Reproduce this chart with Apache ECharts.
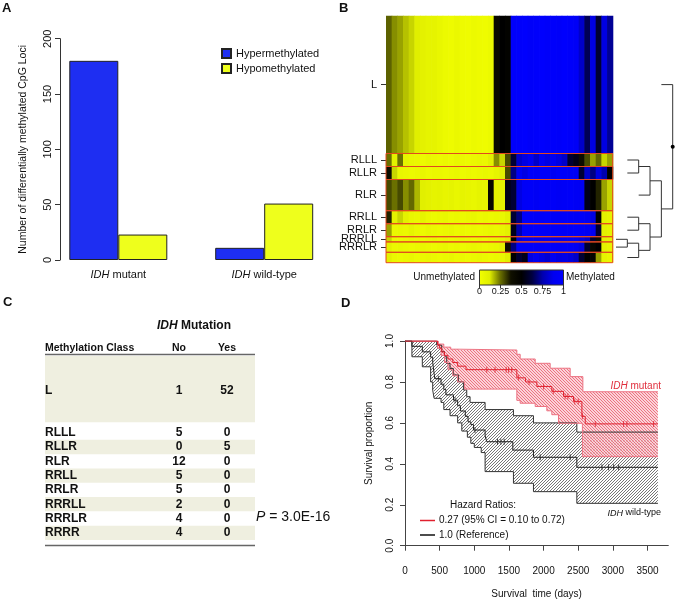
<!DOCTYPE html>
<html><head><meta charset="utf-8">
<script src="https://cdn.jsdelivr.net/npm/echarts@6/dist/echarts.min.js"></script>
<style>html,body{margin:0;padding:0;background:#fff}#c{width:676px;height:601px}</style>
</head><body><div id="c"></div>
<script>
// ---------- Panel A data ----------
const barCategories = ['IDH mutant', 'IDH wild-type'];
const hyperValues = [180, 11];
const hypoValues = [23, 51];
const barSeriesNames = ['Hypermethylated', 'Hypomethylated'];

// ---------- Panel B data ----------
const groupNames = ['L','RLLL','RLLR','RLR','RRLL','RRLR','RRRLL','RRRLR','RRRR'];
const groupSizes = [53,5,5,12,5,5,2,4,4];
const heatL     = [0.27,0.22,0.2,0.17,0.15,0.12,0.1,0.08,0.08,0.06,0.04,0.03,0.05,0.03,0.02,0.04,0.03,0.02,0.04,0.42,0.5,0.48,0.96,0.97,0.98,0.95,0.97,0.98,0.96,0.97,0.95,0.98,0.96,0.93,0.8,0.65,0.85,0.6,0.85,0.72];
const heatRLLL  = [0.25,0.1,0.25,0.08,0.06,0.05,0.04,0.06,0.05,0.04,0.05,0.04,0.06,0.05,0.04,0.05,0.06,0.05,0.1,0.22,0.15,0.3,0.6,0.8,0.85,0.9,0.8,0.9,0.85,0.9,0.85,0.8,0.6,0.55,0.4,0.3,0.2,0.26,0.15,0.2];
const heatRLLR  = [0.4,0.15,0.06,0.05,0.04,0.05,0.06,0.04,0.05,0.05,0.04,0.05,0.06,0.04,0.05,0.04,0.05,0.06,0.05,0.08,0.12,0.3,0.7,0.9,0.85,0.95,0.93,0.96,0.95,0.9,0.95,0.94,0.92,0.9,0.6,0.8,0.7,0.85,0.75,0.5];
const heatRLR   = [0.3,0.25,0.3,0.22,0.26,0.18,0.12,0.1,0.08,0.09,0.07,0.08,0.06,0.08,0.07,0.06,0.08,0.07,0.45,0.1,0.1,0.55,0.6,0.85,0.93,0.94,0.92,0.95,0.93,0.94,0.92,0.93,0.94,0.92,0.9,0.55,0.5,0.35,0.2,0.15];
const heatRRLL  = [0.35,0.1,0.15,0.1,0.06,0.05,0.08,0.05,0.04,0.05,0.06,0.04,0.05,0.04,0.05,0.06,0.04,0.05,0.04,0.05,0.06,0.1,0.6,0.7,0.95,0.96,0.94,0.95,0.97,0.95,0.94,0.96,0.95,0.93,0.95,0.9,0.85,0.5,0.1,0.08];
const heatRRLR  = [0.2,0.05,0.06,0.05,0.08,0.05,0.04,0.06,0.05,0.04,0.05,0.06,0.04,0.05,0.04,0.05,0.04,0.05,0.06,0.05,0.07,0.1,0.55,0.75,0.95,0.94,0.96,0.95,0.93,0.96,0.95,0.94,0.95,0.96,0.94,0.9,0.88,0.6,0.1,0.08];
const heatRRRLL = [0.15,0.05,0.04,0.05,0.06,0.05,0.04,0.05,0.06,0.04,0.05,0.04,0.05,0.06,0.05,0.04,0.05,0.04,0.05,0.06,0.08,0.12,0.5,0.85,0.9,0.92,0.88,0.9,0.92,0.9,0.88,0.9,0.92,0.9,0.85,0.8,0.6,0.4,0.1,0.08];
const heatRRRLR = [0.1,0.05,0.06,0.05,0.04,0.05,0.06,0.05,0.04,0.05,0.06,0.04,0.05,0.04,0.05,0.06,0.05,0.04,0.05,0.06,0.1,0.4,0.7,0.95,0.94,0.96,0.95,0.94,0.96,0.95,0.93,0.95,0.94,0.9,0.85,0.6,0.45,0.5,0.1,0.08];
const heatRRRR  = [0.1,0.05,0.04,0.05,0.06,0.04,0.05,0.06,0.05,0.04,0.05,0.06,0.04,0.05,0.04,0.05,0.06,0.05,0.04,0.05,0.06,0.12,0.5,0.6,0.55,0.85,0.88,0.85,0.82,0.88,0.85,0.86,0.84,0.8,0.6,0.5,0.45,0.2,0.08,0.06];
const heatRows = [heatL,heatRLLL,heatRLLR,heatRLR,heatRRLL,heatRRLR,heatRRRLL,heatRRRLR,heatRRRR];
const heatColors = ['#f2ff00','#e0ee00','#6a7000','#101000','#000000','#000040','#0000b0','#0000f0','#0000ff'];
const colorbarTicks = [0,0.25,0.5,0.75,1];
// dendrogram merges: [childA, childB, height level]
const dendroMerges = [
  ['RRRLL','RRRLR',1],['RLLL','RLLR',2],['RRLL','RRLR',2],['m0','RRRR',2],
  ['m1','RLR',3],['m2','m3',3],['m4','m5',4],['L','m6',5]
];

// ---------- Panel C data ----------
const idhNo  = [1,5,0,12,5,5,2,4,4];
const idhYes = [52,0,5,0,0,0,0,0,0];
const pValueText = '3.0E-16';

// ---------- Panel D data ----------
const dayTicks = [0,500,1000,1500,2000,2500,3000,3500];
const kmMutant = [[0,1],[470,0.982],[500,0.965],[530,0.947],[570,0.93],[620,0.912],[690,0.895],[760,0.877],[880,0.86],[1614,0.82],[1740,0.80],[1903,0.778],[2119,0.754],[2288,0.729],[2432,0.705],[2553,0.632],[2601,0.595],[3650,0.595]];
const kmMutantUpper = [[0,1],[480,0.985],[560,0.97],[660,0.96],[780,0.956],[1614,0.935],[1662,0.912],[1879,0.891],[2095,0.867],[2384,0.826],[2567,0.752],[3650,0.752]];
const kmMutantLower = [[0,1],[470,0.965],[520,0.93],[570,0.895],[620,0.86],[690,0.83],[760,0.80],[860,0.765],[1614,0.71],[1662,0.696],[1879,0.68],[2047,0.659],[2119,0.64],[2215,0.598],[2560,0.435],[3650,0.435]];
const censorMutant = [1180,1300,1460,1495,1540,1640,1790,2000,2140,2310,2350,2450,2500,2560,2746,3155,3203,3588];
const kmWild = [[0,1],[100,0.974],[250,0.947],[370,0.921],[400,0.895],[410,0.868],[420,0.842],[430,0.816],[520,0.789],[560,0.763],[590,0.737],[700,0.711],[760,0.684],[800,0.658],[870,0.632],[910,0.605],[950,0.592],[988,0.565],[1156,0.537],[1180,0.508],[1556,0.467],[1854,0.432],[2480,0.383],[3650,0.383]];
const kmWildUpper = [[0,1],[457,0.98],[530,0.948],[570,0.923],[602,0.89],[650,0.866],[698,0.834],[771,0.801],[843,0.761],[891,0.728],[939,0.70],[1156,0.665],[1565,0.635],[1854,0.6],[2480,0.555],[3650,0.555]];
const kmWildLower = [[0,1],[100,0.923],[250,0.874],[370,0.80],[400,0.76],[420,0.72],[520,0.70],[560,0.665],[650,0.635],[760,0.60],[820,0.56],[900,0.53],[950,0.50],[1000,0.48],[1100,0.455],[1156,0.362],[1565,0.305],[1854,0.264],[2480,0.207],[3650,0.207]];
const censorWild = [481,723,1010,1335,1383,1431,1951,2384,2842,2938,3010,3083];
const legendTexts = ['0.27 (95% CI = 0.10 to 0.72)', '1.0 (Reference)'];

// ---------- helpers ----------
const FF = 'Liberation Sans, Arial, sans-serif';
function stepValue(curve, t) { let v = curve[0][1]; for (const p of curve) { if (p[0] <= t) v = p[1]; } return v; }
function hatch(bg, color, size, dir) {
  const c = document.createElement('canvas'); c.width = size; c.height = size;
  const g = c.getContext('2d');
  if (bg) { g.fillStyle = bg; g.fillRect(0,0,size,size); }
  g.strokeStyle = color; g.lineWidth = 0.9; g.beginPath();
  if (dir > 0) {
    g.moveTo(0,size); g.lineTo(size,0);
    g.moveTo(-size/2,size/2); g.lineTo(size/2,-size/2);
    g.moveTo(size/2,size*1.5); g.lineTo(size*1.5,size/2);
  } else {
    g.moveTo(0,0); g.lineTo(size,size);
    g.moveTo(-size/2,size/2); g.lineTo(size/2,size*1.5);
    g.moveTo(size/2,-size/2); g.lineTo(size*1.5,size/2);
  }
  g.stroke();
  return c;
}
const grayPattern = {image: hatch(null, 'rgba(50,50,50,0.75)', 3, 1), repeat: 'repeat'};
const redPattern = {image: hatch('rgba(250,200,208,0.8)', 'rgba(230,80,95,0.8)', 3, -1), repeat: 'repeat'};

const groupStart = []; let acc = 0;
groupSizes.forEach(s => { groupStart.push(acc); acc += s; });
const totalSamples = acc;
const groupCenters = groupSizes.map((s,i) => groupStart[i] + s/2);
const nCols = heatL.length;

const heatData = [];
heatRows.forEach((row, g) => row.forEach((v, c) => heatData.push([c, g, v])));

// dendrogram geometry in (height, sample) data space
const nodeY = {}, nodeH = {};
groupNames.forEach((n,i) => { nodeY[n] = groupCenters[i]; });
const dendroSegs = [];
dendroMerges.forEach((m, i) => {
  const [a, b, h] = m;
  const ha = (a in nodeH) ? nodeH[a] : h - 1;
  const hb = (b in nodeH) ? nodeH[b] : h - 1;
  dendroSegs.push([[ha, nodeY[a]], [h, nodeY[a]], [h, nodeY[b]], [hb, nodeY[b]]]);
  nodeY['m'+i] = (nodeY[a] + nodeY[b]) / 2; nodeH['m'+i] = h;
});
const rootName = 'm' + (dendroMerges.length - 1);

function stepPoints(curve) {
  const pts = [];
  curve.forEach((p, i) => { if (i > 0) pts.push([p[0], curve[i-1][1]]); pts.push(p); });
  return pts;
}
function bandRender(upper, lower, fill) {
  return function (params, api) {
    const up = stepPoints(upper), lo = stepPoints(lower).reverse();
    const pts = up.concat(lo).map(p => api.coord(p));
    return {type: 'polygon', shape: {points: pts}, style: {fill: fill}};
  };
}

// ---------- table graphics ----------
const g = [];
const txt = (x, y, text, o) => g.push(Object.assign({type:'text', x, y, silent:true, style: Object.assign({text, fill:'#111', font: '11px ' + FF, textVerticalAlign:'middle', textAlign:'left'}, o || {})}));
// panel letters
txt(2, 8, 'A', {font: 'bold 13px ' + FF});
txt(339, 8, 'B', {font: 'bold 13px ' + FF});
txt(3, 302, 'C', {font: 'bold 13px ' + FF});
txt(341, 303, 'D', {font: 'bold 13px ' + FF});
// table
const tLeft = 45, tRight = 255, colNo = 179, colYes = 227;
const cellFont = 'bold 12px ' + FF, headFont = 'bold 10.5px ' + FF;
g.push({type:'text', x:157, y:326, silent:true, style:{text:'{i|IDH} Mutation', font:'bold 12px ' + FF, fill:'#111', textVerticalAlign:'middle', rich:{i:{fontStyle:'italic', fontWeight:'bold', fontSize:12, fontFamily:FF}}}});
txt(tLeft, 348.5, 'Methylation Class', {font: headFont});
txt(colNo, 348.5, 'No', {font: headFont, textAlign:'center'});
txt(colYes, 348.5, 'Yes', {font: headFont, textAlign:'center'});
const rowStep = 14.3;
const rowY = groupNames.map((n, i) => i === 0 ? 391 : 432.7 + (i - 1) * rowStep);
groupNames.forEach((n, i) => {
  if (i === 0) g.push({type:'rect', shape:{x:tLeft, y:356, width:tRight - tLeft, height:66.3}, style:{fill:'#efefe0'}, silent:true, z:-1});
  else if (i % 2 === 0) g.push({type:'rect', shape:{x:tLeft, y:rowY[i] - rowStep/2, width:tRight - tLeft, height:rowStep}, style:{fill:'#efefe0'}, silent:true, z:-1});
  txt(tLeft, rowY[i], n, {font: cellFont});
  txt(colNo, rowY[i], String(idhNo[i]), {font: cellFont, textAlign:'center'});
  txt(colYes, rowY[i], String(idhYes[i]), {font: cellFont, textAlign:'center'});
});
g.push({type:'line', shape:{x1:tLeft, y1:354.5, x2:tRight, y2:354.5}, style:{stroke:'#666', lineWidth:1.5}, silent:true});
g.push({type:'line', shape:{x1:tLeft, y1:545.5, x2:tRight, y2:545.5}, style:{stroke:'#666', lineWidth:1.5}, silent:true});
g.push({type:'text', x:256, y:517, silent:true, style:{text:'{i|P} = ' + pValueText, font:'14px ' + FF, fill:'#111', textVerticalAlign:'middle', rich:{i:{fontStyle:'italic', fontSize:14, fontFamily:FF}}}});
// colorbar
g.push({type:'rect', shape:{x:479.5, y:270, width:84, height:15}, silent:true,
  style:{fill:new echarts.graphic.LinearGradient(0,0,1,0, heatColors.map((c,i) => ({offset:i/(heatColors.length-1), color:c}))), stroke:'#333', lineWidth:1}});
txt(475, 277.5, 'Unmethylated', {font:'10px ' + FF, textAlign:'right'});
txt(566, 277.5, 'Methylated', {font:'10px ' + FF});
// panel D texts
txt(450, 505, 'Hazard Ratios:', {font:'10px ' + FF});
g.push({type:'line', shape:{x1:420, y1:520.5, x2:435, y2:520.5}, style:{stroke:'#e0202e', lineWidth:1.5}, silent:true});
g.push({type:'line', shape:{x1:420, y1:535, x2:435, y2:535}, style:{stroke:'#111', lineWidth:1.5}, silent:true});
txt(439, 520.5, legendTexts[0], {font:'10px ' + FF});
txt(439, 535, legendTexts[1], {font:'10px ' + FF});
g.push({type:'text', x:661, y:386, silent:true, style:{text:'{i|IDH} mutant', font:'10px ' + FF, fill:'#e0303e', textAlign:'right', textVerticalAlign:'middle', rich:{i:{fontStyle:'italic', fontSize:10, fontFamily:FF, fill:'#e0303e'}}}});
g.push({type:'text', x:661, y:513, silent:true, style:{text:'{i|IDH} wild-type', font:'9px ' + FF, fill:'#111', textAlign:'right', textVerticalAlign:'middle', rich:{i:{fontStyle:'italic', fontSize:9, fontFamily:FF}}}});

// ---------- option ----------
const axisGray = '#333';
const option = {
  animation: false,
  backgroundColor: '#fff',
  textStyle: {fontFamily: FF, color: '#111'},
  legend: {left: 221, top: 48, orient: 'vertical', padding: 0, itemWidth: 9, itemHeight: 9, itemGap: 4, icon: 'rect',
    textStyle: {fontSize: 11, color: '#111', fontFamily: FF}, data: barSeriesNames},
  visualMap: {type: 'continuous', show: false, min: 0, max: 1, dimension: 2, seriesIndex: 2, inRange: {color: heatColors}},
  grid: [
    {left: 45.35, top: 38.7, width: 291.8, height: 221.3},
    {left: 386, top: 15.7, width: 226.7, height: 247},
    {left: 616, top: 15.7, width: 56.7, height: 247},
    {left: 405, top: 341, width: 263.3, height: 204.7},
    {left: 479.5, top: 270, width: 84, height: 15}
  ],
  xAxis: [
    {gridIndex: 0, type: 'category', data: barCategories, axisLine: {show: false}, axisTick: {show: false},
      axisLabel: {margin: 9, fontSize: 11, color: '#111', formatter: v => v.replace('IDH', '{i|IDH}'), rich: {i: {fontStyle: 'italic', fontSize: 11, color: '#111'}}}},
    {gridIndex: 1, type: 'value', min: 0, max: nCols, show: false},
    {gridIndex: 2, type: 'value', min: 0, max: 5, show: false},
    {gridIndex: 3, type: 'value', min: 0, max: 3800, offset: 8.6, splitLine: {show: false},
      axisLine: {lineStyle: {color: '#444'}}, axisTick: {length: 5, customValues: dayTicks, lineStyle: {color: '#444'}},
      axisLabel: {customValues: dayTicks, margin: 12, fontSize: 10, color: '#111', formatter: v => String(v)},
      name: 'Survival  time (days)', nameLocation: 'middle', nameGap: 35, nameTextStyle: {fontSize: 10, color: '#111'}},
    {gridIndex: 4, type: 'value', min: 0, max: 1, interval: 0.25, splitLine: {show: false}, axisLine: {show: false},
      axisTick: {length: 3, customValues: colorbarTicks, lineStyle: {color: '#333'}}, axisLabel: {customValues: colorbarTicks, margin: 2, fontSize: 9, color: '#111', formatter: v => String(v)}}
  ],
  yAxis: [
    {gridIndex: 0, type: 'value', min: 0, max: 200, interval: 50, offset: -14.65, splitLine: {show: false},
      axisLine: {show: true, lineStyle: {color: axisGray}}, axisTick: {show: true, length: 5, lineStyle: {color: axisGray}},
      axisLabel: {rotate: 90, margin: 7, fontSize: 11, color: '#111'},
      name: 'Number of differentially methylated CpG Loci', nameLocation: 'middle', nameGap: 31, nameTextStyle: {fontSize: 10.5, color: '#111'}},
    {gridIndex: 1, type: 'value', min: 0, max: totalSamples, inverse: true, splitLine: {show: false}, axisLine: {show: false},
      axisTick: {show: true, length: 5, customValues: groupCenters, lineStyle: {color: '#333'}},
      axisLabel: {customValues: groupCenters, margin: 9, fontSize: 11, color: '#111', formatter: v => groupNames[groupCenters.indexOf(v)]}},
    {gridIndex: 2, type: 'value', min: 0, max: totalSamples, inverse: true, show: false},
    {gridIndex: 3, type: 'value', min: 0, max: 1, interval: 0.2, splitLine: {show: false},
      axisLine: {show: true, lineStyle: {color: '#444'}}, axisTick: {show: true, length: 5, lineStyle: {color: '#444'}},
      axisLabel: {rotate: 90, margin: 10, fontSize: 10, color: '#111', formatter: v => v.toFixed(1)},
      name: 'Survival proportion', nameLocation: 'middle', nameGap: 31, nameTextStyle: {fontSize: 10, color: '#111'}},
    {gridIndex: 4, type: 'value', min: 0, max: 1, show: false}
  ],
  graphic: g,
  series: [
    {name: barSeriesNames[0], type: 'bar', xAxisIndex: 0, yAxisIndex: 0, data: hyperValues, barWidth: 49, barGap: '0%',
      itemStyle: {color: '#1e2ef2', borderColor: '#222', borderWidth: 1}},
    {name: barSeriesNames[1], type: 'bar', xAxisIndex: 0, yAxisIndex: 0, data: hypoValues, barWidth: 49, barGap: '0%',
      itemStyle: {color: '#eeff1c', borderColor: '#222', borderWidth: 1}},
    {type: 'custom', xAxisIndex: 1, yAxisIndex: 1, data: heatData, dimensions: ['col','grp','val'], encode: {x: 0, y: 1},
      renderItem: (params, api) => {
        const c = api.value(0), gi = api.value(1);
        const p0 = api.coord([c, groupStart[gi]]), p1 = api.coord([c + 1, groupStart[gi] + groupSizes[gi]]);
        return {type: 'rect', shape: {x: p0[0], y: p0[1], width: p1[0] - p0[0] + 0.6, height: p1[1] - p0[1]}, style: {fill: api.visual('color')}};
      }},
    {type: 'custom', xAxisIndex: 1, yAxisIndex: 1, data: groupNames.map((n, i) => [0, i]).slice(1), z: 5,
      renderItem: (params, api) => {
        const gi = api.value(1);
        const p0 = api.coord([0, groupStart[gi]]), p1 = api.coord([nCols, groupStart[gi] + groupSizes[gi]]);
        return {type: 'rect', shape: {x: p0[0], y: p0[1], width: p1[0] - p0[0], height: p1[1] - p0[1]}, style: {fill: 'none', stroke: '#e2481e', lineWidth: 1}};
      }},
    {type: 'custom', xAxisIndex: 2, yAxisIndex: 2, data: dendroSegs.map((s, i) => [i]), z: 5,
      renderItem: (params, api) => {
        const i = api.value(0);
        const children = [{type: 'polyline', shape: {points: dendroSegs[i].map(p => api.coord(p))}, style: {stroke: '#333', lineWidth: 1, fill: null}}];
        if (i === dendroSegs.length - 1) {
          const r = api.coord([nodeH[rootName], nodeY[rootName]]);
          children.push({type: 'circle', shape: {cx: r[0], cy: r[1], r: 2}, style: {fill: '#000'}});
        }
        return {type: 'group', children};
      }},
    {type: 'custom', xAxisIndex: 3, yAxisIndex: 3, data: [[0, 0]], z: 1, renderItem: bandRender(kmWildUpper, kmWildLower, grayPattern)},
    {type: 'custom', xAxisIndex: 3, yAxisIndex: 3, data: [[0, 0]], z: 2, renderItem: bandRender(kmMutantUpper, kmMutantLower, redPattern)},
    {type: 'line', xAxisIndex: 3, yAxisIndex: 3, step: 'end', data: kmWildUpper, symbol: 'none', z: 3, lineStyle: {color: '#333', width: 1}},
    {type: 'line', xAxisIndex: 3, yAxisIndex: 3, step: 'end', data: kmWildLower, symbol: 'none', z: 3, lineStyle: {color: '#333', width: 1}},
    {type: 'line', xAxisIndex: 3, yAxisIndex: 3, step: 'end', data: kmMutantUpper, symbol: 'none', z: 4, lineStyle: {color: '#ec7282', width: 1}},
    {type: 'line', xAxisIndex: 3, yAxisIndex: 3, step: 'end', data: kmMutantLower, symbol: 'none', z: 4, lineStyle: {color: '#ec7282', width: 1}},
    {type: 'line', xAxisIndex: 3, yAxisIndex: 3, step: 'end', data: kmWild, symbol: 'none', z: 5, lineStyle: {color: '#222', width: 1}},
    {type: 'line', xAxisIndex: 3, yAxisIndex: 3, step: 'end', data: kmMutant, symbol: 'none', z: 6, lineStyle: {color: '#e0202e', width: 1}},
    {type: 'scatter', xAxisIndex: 3, yAxisIndex: 3, data: censorWild.map(t => [t, stepValue(kmWild, t)]), symbol: 'rect', symbolSize: [1, 6], z: 6, itemStyle: {color: '#222'}},
    {type: 'scatter', xAxisIndex: 3, yAxisIndex: 3, data: censorMutant.map(t => [t, stepValue(kmMutant, t)]), symbol: 'rect', symbolSize: [1, 6], z: 7, itemStyle: {color: '#e0202e'}}
  ]
};
const chart = echarts.init(document.getElementById('c'), null, {renderer: 'canvas', width: 676, height: 601});
chart.setOption(option);
</script>
</body></html>
